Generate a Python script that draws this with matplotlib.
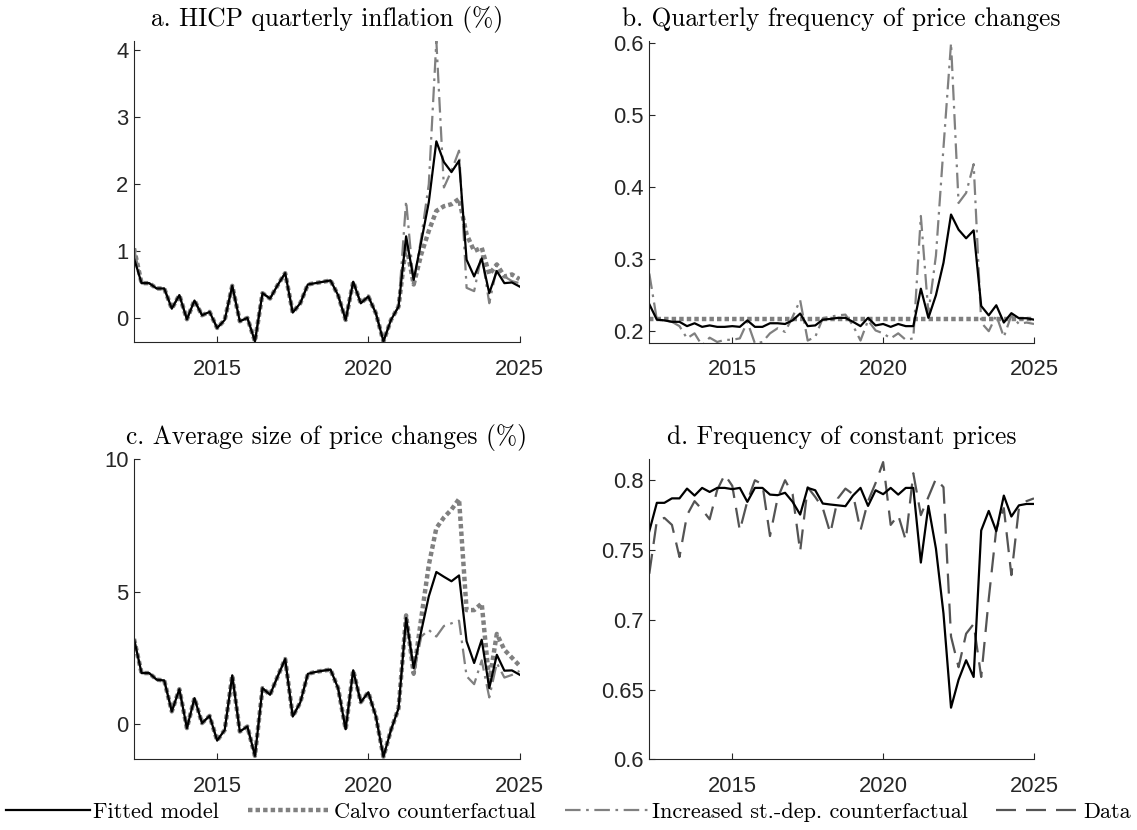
import numpy as np
import pandas as pd
import matplotlib
matplotlib.use("Agg")
import matplotlib.pyplot as plt
from matplotlib.lines import Line2D

plt.rcParams['font.family'] = ['Liberation Sans', 'DejaVu Sans']
serif = ['cmr10', 'DejaVu Serif']

# quarters 2012Q2 .. 2025Q1
qtr = pd.period_range("2012Q2", "2025Q1", freq="Q")
t = np.array(qtr.year + (qtr.quarter - 1) / 4.0)

# a. HICP quarterly inflation (%)
infl_fit = [0.89, 0.52, 0.52, 0.44, 0.44, 0.14, 0.34, -0.02, 0.26, 0.04,
            0.09, -0.15, -0.03, 0.48, -0.05, 0.00, -0.35, 0.37, 0.29, 0.49,
            0.67, 0.08, 0.22, 0.50, 0.52, 0.54, 0.56, 0.34, -0.03, 0.54,
            0.22, 0.32, 0.07, -0.35, -0.03, 0.17, 1.22, 0.57, 1.14, 1.73,
            2.64, 2.33, 2.18, 2.35, 0.87, 0.62, 0.89, 0.37, 0.70, 0.52,
            0.53, 0.47]
infl_calvo = [1.04] + infl_fit[1:36] + [1.10, 0.50, 0.95, 1.30, 1.60, 1.67,
              1.70, 1.78, 1.25, 1.00, 1.05, 0.65, 0.80, 0.62, 0.65, 0.58]
infl_sd = [1.04] + infl_fit[1:36] + [1.75, 0.50, 1.20, 2.00, 4.14, 1.95,
           2.20, 2.50, 0.45, 0.40, 0.95, 0.22, 0.75, 0.62, 0.55, 0.52]

# b. Quarterly frequency of price changes
freq_fit = [0.2375, 0.216, 0.215, 0.213, 0.213, 0.207, 0.211, 0.206, 0.208, 0.206,
            0.206, 0.207, 0.206, 0.215, 0.206, 0.206, 0.211, 0.211, 0.210, 0.215,
            0.2245, 0.207, 0.208, 0.216, 0.217, 0.2185, 0.2185, 0.213, 0.207, 0.2185,
            0.208, 0.210, 0.206, 0.210, 0.207, 0.207, 0.259, 0.2185, 0.250, 0.295,
            0.362, 0.341, 0.329, 0.340, 0.235, 0.222, 0.236, 0.212, 0.225, 0.218,
            0.218, 0.216]
freq_calvo = [0.217] * 52
freq_sd = [0.280, 0.216, 0.215, 0.213, 0.207, 0.190, 0.197, 0.180, 0.191, 0.185,
           0.188, 0.188, 0.190, 0.213, 0.183, 0.185, 0.197, 0.204, 0.199, 0.220,
           0.243, 0.187, 0.192, 0.218, 0.220, 0.222, 0.223, 0.208, 0.187, 0.215,
           0.201, 0.197, 0.190, 0.197, 0.188, 0.190, 0.360, 0.225, 0.305, 0.455,
           0.600, 0.378, 0.392, 0.432, 0.212, 0.200, 0.222, 0.192, 0.222, 0.210,
           0.212, 0.210]

# c. Average size of price changes (%)
size_fit = [3.21, 1.92, 1.92, 1.67, 1.64, 0.47, 1.31, -0.16, 0.97, 0.03,
            0.30, -0.63, -0.23, 1.83, -0.29, -0.10, -1.21, 1.35, 1.10, 1.79,
            2.45, 0.28, 0.81, 1.89, 1.96, 2.01, 2.05, 1.35, -0.20, 2.02,
            0.82, 1.19, 0.28, -1.24, -0.23, 0.59, 4.00, 2.11, 3.50, 4.82,
            5.74, 5.56, 5.39, 5.61, 3.12, 2.30, 3.18, 1.35, 2.61, 2.01,
            2.02, 1.86]
size_calvo = size_fit[:36] + [4.10, 1.90, 4.00, 6.00, 7.40, 7.80, 8.10, 8.50,
                              4.30, 4.30, 4.55, 1.60, 3.40, 2.80, 2.50, 2.20]
size_sd = size_fit[:36] + [4.00, 1.85, 3.30, 3.55, 3.30, 3.70, 3.80, 3.90,
                           1.80, 1.50, 2.40, 1.00, 2.30, 1.75, 1.85, 2.00]

# d. Frequency of constant prices
const_fit = [0.7635, 0.7838, 0.7838, 0.787, 0.787, 0.794, 0.789, 0.7945, 0.7916, 0.7945,
             0.7945, 0.7936, 0.7945, 0.7845, 0.7945, 0.7945, 0.7897, 0.7893, 0.791, 0.7845,
             0.7754, 0.7945, 0.7928, 0.7833, 0.7826, 0.782, 0.7814, 0.789, 0.7945, 0.7816,
             0.7928, 0.790, 0.7945, 0.7897, 0.7945, 0.7945, 0.741, 0.7816, 0.751, 0.7045,
             0.637, 0.657, 0.671, 0.659, 0.764, 0.778, 0.7635, 0.789, 0.774, 0.782,
             0.783, 0.783]
const_data = [0.733, 0.771, 0.773, 0.768, 0.745, 0.775, 0.785, 0.779, 0.772, 0.793,
              0.804, 0.796, 0.764, 0.785, 0.800, 0.797, 0.760, 0.787, 0.800, 0.790,
              0.749, 0.795, 0.788, 0.780, 0.762, 0.787, 0.794, 0.790, 0.764, 0.785,
              0.798, 0.813, 0.768, 0.775, 0.757, 0.805, 0.775, 0.788, 0.801, 0.795,
              0.688, 0.666, 0.690, 0.697, 0.659, 0.715, 0.765, 0.780, 0.732, 0.780,
              0.785, 0.787]

titles = ["a. HICP quarterly inflation (%)",
          "b. Quarterly frequency of price changes",
          "c. Average size of price changes (%)",
          "d. Frequency of constant prices"]
legend_labels = ["Fitted model", "Calvo counterfactual",
                 "Increased st.-dep. counterfactual", "Data"]

grey = (0.5, 0.5, 0.5)
dgrey = (0.33, 0.33, 0.33)
st_fit = dict(color='black', lw=1.6, ls='-')
st_calvo = dict(color=grey, lw=3.2, ls=(0, (1.0, 0.7)))
st_sd = dict(color=grey, lw=1.6, ls=(0, (7, 2.5, 1.2, 2.5)))
st_data = dict(color=dgrey, lw=1.6, ls=(0, (9, 4.5)))

W, H = 1137, 830
fig = plt.figure(figsize=(W / 100, H / 100), dpi=100)


def box(l, r, top, bot):
    return [l / W, 1 - bot / H, (r - l) / W, (bot - top) / H]


ax_a = fig.add_axes(box(134, 519.5, 41, 342))
ax_b = fig.add_axes(box(649.3, 1034, 41, 342.7))
ax_c = fig.add_axes(box(134, 519.5, 459.3, 759.3))
ax_d = fig.add_axes(box(649.3, 1034, 459.3, 759.3))
axes = [ax_a, ax_b, ax_c, ax_d]

ax_a.plot(t, infl_calvo, **st_calvo)
ax_a.plot(t, infl_sd, **st_sd)
ax_a.plot(t, infl_fit, **st_fit)
ax_a.set_ylim(-0.36, 4.14)
ax_a.set_yticks([0, 1, 2, 3, 4])

ax_b.plot(t, freq_calvo, **st_calvo)
ax_b.plot(t, freq_sd, **st_sd)
ax_b.plot(t, freq_fit, **st_fit)
ax_b.set_ylim(0.184, 0.603)
ax_b.set_yticks([0.2, 0.3, 0.4, 0.5, 0.6])

ax_c.plot(t, size_calvo, **st_calvo)
ax_c.plot(t, size_sd, **st_sd)
ax_c.plot(t, size_fit, **st_fit)
ax_c.set_ylim(-1.34, 10)
ax_c.set_yticks([0, 5, 10])

ax_d.plot(t, const_data, **st_data)
ax_d.plot(t, const_fit, **st_fit)
ax_d.set_ylim(0.6, 0.815)
ax_d.set_yticks([0.6, 0.65, 0.7, 0.75, 0.8])
ax_d.set_yticklabels(['0.6', '0.65', '0.7', '0.75', '0.8'])

for ax, ttl in zip(axes, titles):
    ax.set_xlim(t[0], t[-1])
    ax.set_xticks([2015, 2020, 2025])
    ax.spines['top'].set_visible(False)
    ax.spines['right'].set_visible(False)
    for s in ax.spines.values():
        s.set_linewidth(0.8)
        s.set_color('#262626')
    ax.tick_params(direction='in', length=4, width=0.8, labelsize=15.8,
                   colors='#262626')
    ax.tick_params(axis='x', pad=12)
    ax.tick_params(axis='y', pad=4)
    ax.set_title(ttl, fontsize=18.3, family=serif, pad=11)

handles = [Line2D([], [], **st_fit), Line2D([], [], **st_calvo),
           Line2D([], [], **st_sd), Line2D([], [], **st_data)]
fig.legend(handles, legend_labels, loc='center', bbox_to_anchor=(0.5, 1 - 812 / H),
           ncol=4, frameon=False, prop={'family': serif, 'size': 16},
           handlelength=3.75, handletextpad=0.15, columnspacing=1.3,
           borderaxespad=0)

fig.savefig('out.png', dpi=100)
